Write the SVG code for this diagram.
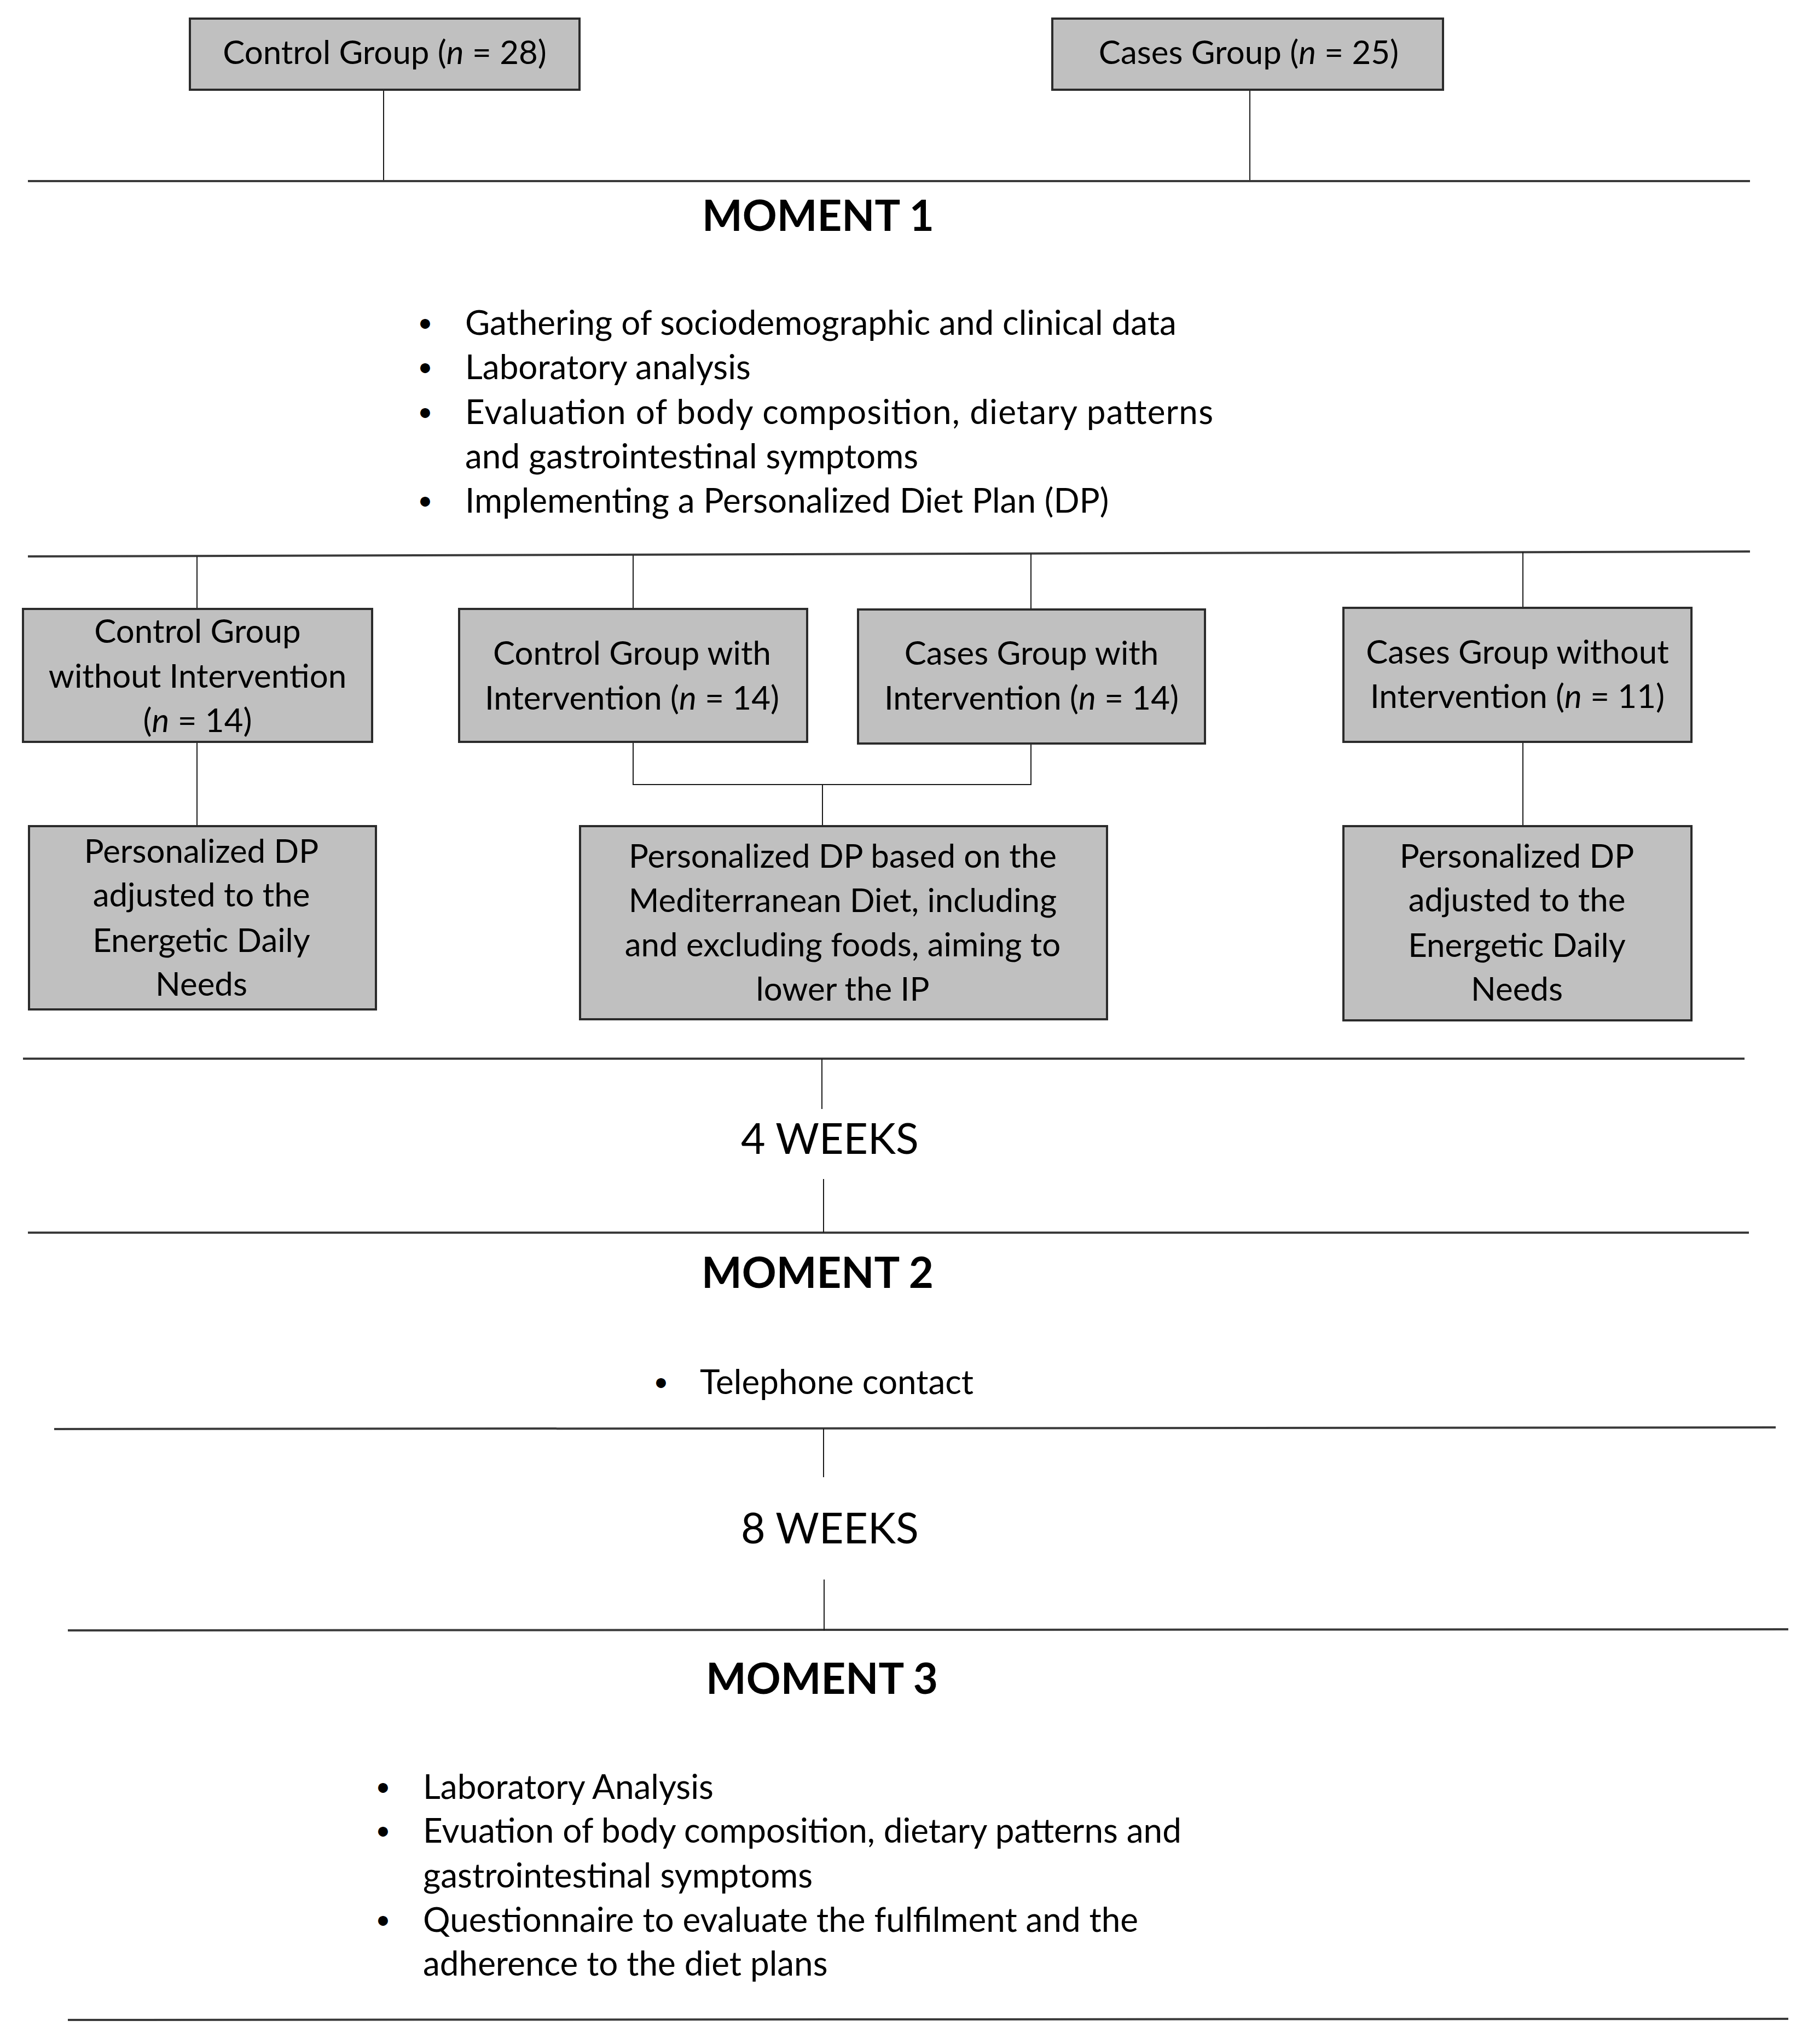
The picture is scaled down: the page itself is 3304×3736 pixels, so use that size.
<svg xmlns="http://www.w3.org/2000/svg" width="3304" height="3736" viewBox="0 0 3304 3736">
<style>
.box{fill:#c0c0c0;stroke:#2b2b2b;stroke-width:4}
.t{font-family:Lato,"Liberation Sans",sans-serif;font-size:60px;fill:#000;text-anchor:middle}
.b{font-family:Lato,"Liberation Sans",sans-serif;font-size:62px;fill:#000}
.dot{font-family:Lato,"Liberation Sans",sans-serif;font-size:48px;fill:#000;text-anchor:middle}
.h{font-family:Lato,"Liberation Sans",sans-serif;font-size:78px;font-weight:bold;fill:#000}
.w{font-family:Lato,"Liberation Sans",sans-serif;font-size:77px;fill:#000}
.sep{stroke:#3a3a3a;stroke-width:4;fill:none}
.con{stroke:#1a1a1a;stroke-width:2;fill:none}
.i{font-style:italic}
</style>
<rect width="3304" height="3736" fill="#fff"/>
<g id="separators">
<line class="sep" x1="51" y1="331" x2="3198" y2="331"/>
<line class="sep" x1="51" y1="1017" x2="3198" y2="1008"/>
<line class="sep" x1="42" y1="1935" x2="3188" y2="1935"/>
<line class="sep" x1="51" y1="2253" x2="3196" y2="2253"/>
<line class="sep" x1="99" y1="2612" x2="3245" y2="2609"/>
<line class="sep" x1="124" y1="2980" x2="3268" y2="2978"/>
<line class="sep" x1="124" y1="3692" x2="3268" y2="3690"/>
</g>
<g id="connectors">
<line class="con" x1="701" y1="164" x2="701" y2="329"/>
<line class="con" x1="2284" y1="164" x2="2284" y2="329"/>
<line class="con" x1="360" y1="1017" x2="360" y2="1113"/>
<line class="con" x1="1157" y1="1015" x2="1157" y2="1113"/>
<line class="con" x1="1884" y1="1012" x2="1884" y2="1114"/>
<line class="con" x1="2783" y1="1009" x2="2783" y2="1111"/>
<line class="con" x1="360" y1="1356" x2="360" y2="1510"/>
<polyline class="con" points="1157,1356 1157,1434 1884,1434 1884,1359"/>
<line class="con" x1="1503" y1="1434" x2="1503" y2="1510"/>
<line class="con" x1="2783" y1="1356" x2="2783" y2="1510"/>
<line class="con" x1="1502" y1="1935" x2="1502" y2="2027"/>
<line class="con" x1="1505" y1="2155" x2="1505" y2="2253"/>
<line class="con" x1="1505" y1="2611" x2="1505" y2="2700"/>
<line class="con" x1="1506" y1="2887" x2="1506" y2="2980"/>
</g>
<g id="control-group">
<rect class="box" x="347" y="34" width="712" height="130"/>
<text class="t" x="703" y="117">Control Group (<tspan class="i">n</tspan> = 28)</text>
</g>
<g id="cases-group">
<rect class="box" x="1923" y="34" width="714" height="130"/>
<text class="t" x="2282" y="117">Cases Group (<tspan class="i">n</tspan> = 25)</text>
</g>
<g id="moment1">
<text class="h" x="1283" y="422">MOMENT 1</text>
<text class="dot" x="777" y="606">•</text><text class="b" x="850" y="612">Gathering of sociodemographic and clinical data</text>
<text class="dot" x="777" y="687">•</text><text class="b" x="850" y="693">Laboratory analysis</text>
<text class="dot" x="777" y="769">•</text><text class="b" x="850" y="775" textLength="1367" lengthAdjust="spacing">Evaluation of body composition, dietary patterns</text>
<text class="b" x="850" y="856">and gastrointestinal symptoms</text>
<text class="dot" x="777" y="931">•</text><text class="b" x="850" y="937">Implementing a Personalized Diet Plan (DP)</text>
</g>
<g id="control-without">
<rect class="box" x="42" y="1113" width="638" height="243"/>
<text class="t" x="361" y="1175">Control Group</text>
<text class="t" x="361" y="1257">without Intervention</text>
<text class="t" x="361" y="1338">(<tspan class="i">n</tspan> = 14)</text>
</g>
<g id="control-with">
<rect class="box" x="839" y="1113" width="636" height="243"/>
<text class="t" x="1155" y="1215">Control Group with</text>
<text class="t" x="1155" y="1297">Intervention (<tspan class="i">n</tspan> = 14)</text>
</g>
<g id="cases-with">
<rect class="box" x="1568" y="1114" width="634" height="245"/>
<text class="t" x="1885" y="1215">Cases Group with</text>
<text class="t" x="1885" y="1297">Intervention (<tspan class="i">n</tspan> = 14)</text>
</g>
<g id="cases-without">
<rect class="box" x="2455" y="1111" width="636" height="245"/>
<text class="t" x="2773" y="1213">Cases Group without</text>
<text class="t" x="2773" y="1294">Intervention (<tspan class="i">n</tspan> = 11)</text>
</g>
<g id="dp-control">
<rect class="box" x="53" y="1510" width="634" height="335"/>
<text class="t" x="368" y="1577">Personalized DP</text>
<text class="t" x="368" y="1657">adjusted to the</text>
<text class="t" x="368" y="1740">Energetic Daily</text>
<text class="t" x="368" y="1820">Needs</text>
</g>
<g id="dp-mediterranean">
<rect class="box" x="1060" y="1510" width="963" height="353"/>
<text class="t" x="1540" y="1586">Personalized DP based on the</text>
<text class="t" x="1540" y="1667">Mediterranean Diet, including</text>
<text class="t" x="1540" y="1748">and excluding foods, aiming to</text>
<text class="t" x="1540" y="1829">lower the IP</text>
</g>
<g id="dp-cases">
<rect class="box" x="2455" y="1510" width="636" height="355"/>
<text class="t" x="2772" y="1586">Personalized DP</text>
<text class="t" x="2772" y="1666">adjusted to the</text>
<text class="t" x="2772" y="1749">Energetic Daily</text>
<text class="t" x="2772" y="1829">Needs</text>
</g>
<g id="weeks4">
<text class="w" x="1354" y="2109">4 WEEKS</text>
</g>
<g id="moment2">
<text class="h" x="1282" y="2354">MOMENT 2</text>
<text class="dot" x="1208" y="2542">•</text><text class="b" x="1279" y="2548">Telephone contact</text>
</g>
<g id="weeks8">
<text class="w" x="1354" y="2821">8 WEEKS</text>
</g>
<g id="moment3">
<text class="h" x="1290" y="3096">MOMENT 3</text>
<text class="dot" x="700" y="3282">•</text><text class="b" x="773" y="3288">Laboratory Analysis</text>
<text class="dot" x="700" y="3362">•</text><text class="b" x="773" y="3368">Evuation of body composition, dietary patterns and</text>
<text class="b" x="773" y="3450">gastrointestinal symptoms</text>
<text class="dot" x="700" y="3525">•</text><text class="b" x="773" y="3531">Questionnaire to evaluate the fulfilment and the</text>
<text class="b" x="773" y="3611">adherence to the diet plans</text>
</g>
</svg>
